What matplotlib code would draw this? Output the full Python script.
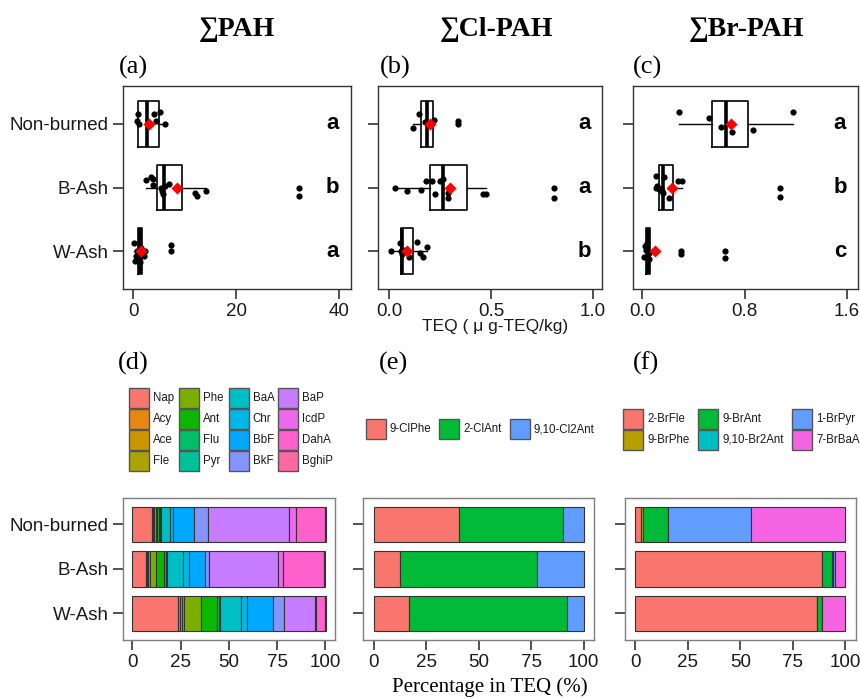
import matplotlib.pyplot as plt
from matplotlib.patches import Rectangle
import numpy as np

plt.rcParams['font.family'] = ['Liberation Sans', 'DejaVu Sans']

W, H = 860, 699

groups = ['Non-burned', 'B-Ash', 'W-Ash']
ypos = [3, 2, 1]

# ---------- top row: TEQ box plots ----------
# box stats per group: q1, median, q3, whisker low, whisker high
pah_box = [(0.84, 2.6, 4.92, 0.78, 6.21),
           (4.66, 5.9, 9.39, 2.46, 14.1),
           (0.85, 1.3, 1.75, 0.19, 2.27)]
pah_mean = [3.0, 8.5, 1.55]
pah_pts = [[0.84, 0.78, 1.17, 4.08, 5.18, 6.21, 4.34],
           [2.46, 3.37, 3.75, 3.88, 5.37, 5.57, 5.70, 6.21, 6.86, 11.9, 12.3, 14.1, 32.2, 32.2],
           [0.19, 0.26, 0.52, 0.78, 1.17, 1.42, 1.81, 2.14, 2.27, 1.29, 7.25, 7.25]]
pah_jit = [[0.16, 0.04, 0.0, 0.15, 0.18, 0.0, 0.05],
           [0.12, 0.17, 0.13, 0.04, 0.0, -0.06, -0.10, 0.02, 0.06, -0.09, -0.13, -0.06, 0.0, -0.13],
           [0.12, -0.16, -0.08, 0.0, -0.05, 0.05, -0.03, -0.08, 0.0, -0.17, 0.09, 0.0]]
pah_letters = ['a', 'b', 'a']

cl_box = [(0.154, 0.184, 0.213, 0.115, 0.220),
          (0.198, 0.264, 0.382, 0.026, 0.475),
          (0.057, 0.064, 0.118, 0.007, 0.184)]
cl_mean = [0.198, 0.298, 0.085]
cl_pts = [[0.115, 0.144, 0.177, 0.220, 0.192, 0.338, 0.338],
          [0.026, 0.085, 0.154, 0.179, 0.208, 0.225, 0.249, 0.266, 0.287, 0.290, 0.462, 0.475, 0.810, 0.810],
          [0.007, 0.052, 0.056, 0.061, 0.098, 0.134, 0.151, 0.164, 0.184, 0.077]]
cl_jit = [[-0.06, 0.15, 0.03, 0.06, 0.0, 0.04, 0.0],
          [0.0, -0.05, -0.04, 0.10, 0.10, -0.11, 0.10, 0.13, -0.09, -0.16, -0.11, -0.10, 0.0, -0.16],
          [0.0, 0.13, 0.0, -0.05, -0.09, 0.14, -0.03, -0.10, 0.07, 0.02]]
cl_letters = ['a', 'a', 'b']

br_box = [(0.545, 0.652, 0.827, 0.284, 1.177),
          (0.133, 0.164, 0.243, 0.104, 0.308),
          (0.029, 0.042, 0.060, 0.016, 0.075)]
br_mean = [0.694, 0.232, 0.097]
br_pts = [[0.284, 0.522, 0.613, 0.702, 0.869, 1.177],
          [0.104, 0.107, 0.117, 0.128, 0.143, 0.151, 0.172, 0.164, 0.211, 0.282, 0.308, 1.077, 1.077],
          [0.016, 0.018, 0.029, 0.039, 0.050, 0.055, 0.303, 0.303, 0.650, 0.650]]
br_jit = [[0.18, 0.09, -0.05, -0.12, -0.10, 0.18],
          [0.18, 0.0, 0.02, -0.03, -0.02, -0.06, 0.17, -0.08, -0.17, 0.11, 0.11, 0.0, -0.15],
          [-0.09, 0.08, 0.02, 0.13, -0.03, -0.13, 0.0, -0.04, 0.0, -0.11]]
br_letters = ['a', 'b', 'c']

# ---------- bottom row: composition of TEQ (%) ----------
pah_names = ['Nap', 'Acy', 'Ace', 'Fle', 'Phe', 'Ant', 'Flu', 'Pyr',
             'BaA', 'Chr', 'BbF', 'BkF', 'BaP', 'IcdP', 'DahA', 'BghiP']
pah_colors = ['#F8766D', '#E68613', '#CD9600', '#ABA300', '#7CAE00', '#0CB702', '#00BE67', '#00C19A',
              '#00BFC4', '#00B8E7', '#00A9FF', '#8494FF', '#C77CFF', '#ED68ED', '#FF61CC', '#FF68A1']
pah_nb = [10.4, 0.5, 0.3, 0.8, 1.0, 0.9, 0.3, 0.5, 4.9, 1.4, 10.9, 7.3, 41.8, 4.0, 14.6, 0.5]
pah_ba = [6.9, 0.5, 0.7, 0.9, 3.3, 4.3, 0.7, 0.7, 8.5, 2.6, 8.5, 1.9, 35.9, 2.4, 21.7, 0.3]
pah_wa = [23.6, 1.2, 0.9, 0.9, 9.2, 8.2, 0.7, 0.9, 10.8, 3.1, 13.5, 5.4, 16.0, 1.0, 4.5, 0.2]

cl_names = ['9-ClPhe', '2-ClAnt', '9,10-Cl2Ant']
cl_colors = ['#F8766D', '#00BA38', '#619CFF']
cl_nb = [40.6, 49.4, 10.0]
cl_ba = [12.3, 65.3, 22.4]
cl_wa = [16.8, 75.3, 7.9]

br_names = ['2-BrFle', '9-BrPhe', '9-BrAnt', '9,10-Br2Ant', '1-BrPyr', '7-BrBaA']
br_colors = ['#F8766D', '#B79F00', '#00BA38', '#00BFC4', '#619CFF', '#F564E3']
br_nb = [2.7, 0.8, 11.9, 0.2, 39.6, 44.8]
br_ba = [88.8, 0.1, 4.9, 0.5, 0.6, 5.1]
br_wa = [86.4, 0.0, 2.5, 0.0, 0.0, 11.1]


def fx(x):
    return x / W


def fy(y):
    return 1 - y / H


def axes_px(fig, x0, y0, x1, y1):
    return fig.add_axes([fx(x0), fy(y1), (x1 - x0) / W, (y1 - y0) / H])


def style_axes(ax, edge):
    for s in ax.spines.values():
        s.set_color(edge)
        s.set_linewidth(1.0)
    ax.tick_params(length=7, width=1.2, color='#333333', labelsize=13.5, pad=3,
                   labelcolor='#1a1a1a')


def box_panel(ax, box, means, pts, jit, letters, xlim, xticks, xlabels, labels):
    stats = [dict(q1=b[0], med=b[1], q3=b[2], whislo=b[3], whishi=b[4], fliers=[]) for b in box]
    ax.bxp(stats, positions=ypos, widths=0.72, vert=False, showcaps=False, showfliers=False,
           boxprops=dict(color='black', lw=1.2), medianprops=dict(color='black', lw=2.6),
           whiskerprops=dict(color='black', lw=1.0))
    for i in range(3):
        ax.scatter(pts[i], np.array(jit[i]) + ypos[i], s=20, color='black', zorder=3, lw=0)
        ax.scatter([means[i]], [ypos[i]], marker='D', s=38, color='red', zorder=4, lw=0)
        ax.text(0.92, ypos[i], letters[i], transform=ax.get_yaxis_transform(),
                ha='center', va='center', fontsize=16, fontweight='bold')
    ax.set_xlim(xlim)
    ax.set_ylim(0.4, 3.6)
    ax.set_xticks(xticks)
    ax.set_xticklabels(xlabels)
    ax.set_yticks(ypos)
    ax.set_yticklabels(groups if labels else [])
    style_axes(ax, '#333333')


def bar_panel(ax, rows, colors, labels):
    for y, vals in zip(ypos, rows):
        left = 0
        for v, c in zip(vals, colors):
            ax.barh(y, v, left=left, height=0.8, color=c, edgecolor='#333333', lw=0.8)
            left += v
    ax.set_xlim(-5, 105)
    ax.set_ylim(0.4, 3.6)
    ax.set_xticks([0, 25, 50, 75, 100])
    ax.set_yticks(ypos)
    ax.set_yticklabels(groups if labels else [])
    style_axes(ax, '#7f7f7f')


def legend_px(fig, names, colors, col_x, row_y, nrow):
    for i, (n, c) in enumerate(zip(names, colors)):
        x = col_x[i // nrow]
        yc = row_y[i % nrow]
        fig.add_artist(Rectangle((fx(x), fy(yc + 10)), 20 / W, 20 / H, transform=fig.transFigure,
                                 facecolor=c, edgecolor='#555555', lw=1.0))
        fig.text(fx(x + 24), fy(yc), n, fontsize=8.3, ha='left', va='center', color='#1a1a1a')


fig = plt.figure(figsize=(8.6, 6.99), dpi=100)

ax_a = axes_px(fig, 122.7, 85.7, 350.7, 289.3)
box_panel(ax_a, pah_box, pah_mean, pah_pts, pah_jit, pah_letters,
          (-2.06, 42.2), [0, 20, 40], ['0', '20', '40'], True)
ax_b = axes_px(fig, 378.3, 85.7, 602.3, 289.3)
box_panel(ax_b, cl_box, cl_mean, cl_pts, cl_jit, cl_letters,
          (-0.054, 1.047), [0, 0.5, 1.0], ['0.0', '0.5', '1.0'], False)
ax_c = axes_px(fig, 632.7, 85.7, 858.0, 289.3)
box_panel(ax_c, br_box, br_mean, br_pts, br_jit, br_letters,
          (-0.075, 1.688), [0, 0.8, 1.6], ['0.0', '0.8', '1.6'], False)

ax_d = axes_px(fig, 122.7, 497.7, 335.0, 640.0)
bar_panel(ax_d, [pah_nb, pah_ba, pah_wa], pah_colors, True)
ax_e = axes_px(fig, 363.3, 497.7, 594.3, 640.0)
bar_panel(ax_e, [cl_nb, cl_ba, cl_wa], cl_colors, False)
ax_f = axes_px(fig, 625.0, 497.7, 855.7, 640.0)
bar_panel(ax_f, [br_nb, br_ba, br_wa], br_colors, False)

serif = ['Liberation Serif', 'DejaVu Serif']
for x, t in [(236.7, '∑PAH'), (497.0, '∑Cl-PAH'), (747.0, '∑Br-PAH')]:
    fig.text(fx(x), fy(29), t, family=serif, fontsize=20, fontweight='bold', ha='center', va='center')
for x, y, t in [(119, 67, '(a)'), (380, 67, '(b)'), (633, 67, '(c)'),
                (118, 363, '(d)'), (379, 363, '(e)'), (633, 363, '(f)')]:
    fig.text(fx(x), fy(y), t, family=serif, fontsize=19, ha='left', va='center')

fig.text(fx(495), fy(327), 'TEQ ( μ g-TEQ/kg)', fontsize=12.5, ha='center', va='center', color='#1a1a1a')
fig.text(fx(490), fy(687), 'Percentage in TEQ (%)', family=serif, fontsize=15, ha='center', va='center')

legend_px(fig, pah_names, pah_colors, [129.3, 179.0, 228.7, 278.0], [398, 419, 440, 461], 4)
legend_px(fig, cl_names, cl_colors, [365.7, 439.3, 510.0], [429.3], 1)
legend_px(fig, br_names, br_colors, [623.3, 698.3, 792.3], [419.3, 440.0], 2)

fig.savefig('out.png', dpi=100)
